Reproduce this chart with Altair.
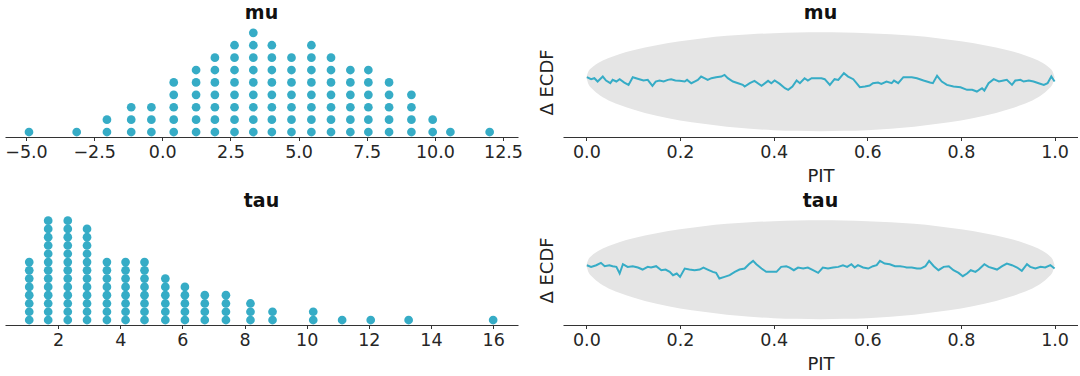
import altair as alt
import pandas as pd

BLUE = "#36acc6"
BAND_COLOR = "#e5e5e5"

# ---- dot plot data: column centres and number of stacked dots ----
MU_X = [-4.89, -3.14, -2.03, -1.14, -0.40, 0.42, 1.24, 1.93, 2.65, 3.34, 4.02,
        4.74, 5.47, 6.19, 6.90, 7.56, 8.32, 9.14, 9.92, 10.57, 12.01]
MU_N = [1, 1, 2, 3, 3, 5, 6, 7, 8, 9, 8, 7, 8, 7, 6, 6, 5, 4, 2, 1, 1]

TAU_X = [1.07, 1.68, 2.31, 2.93, 3.57, 4.17, 4.78, 5.45, 6.08, 6.72, 7.40,
         8.19, 8.90, 10.21, 11.14, 12.06, 13.28, 16.0]
TAU_N = [8, 13, 13, 12, 8, 8, 8, 6, 5, 4, 4, 3, 2, 2, 1, 1, 1, 1]

MU_TICKS = [-5.0, -2.5, 0.0, 2.5, 5.0, 7.5, 10.0, 12.5]
TAU_TICKS = [2, 4, 6, 8, 10, 12, 14, 16]
PIT_TICKS = [0.0, 0.2, 0.4, 0.6, 0.8, 1.0]

# ---- PIT ECDF difference lines ----
MU_PIT = [0.001, 0.010, 0.017, 0.024, 0.035, 0.042, 0.051, 0.056, 0.064, 0.071,
          0.081, 0.090, 0.099, 0.106, 0.113, 0.122, 0.131, 0.141, 0.148, 0.156,
          0.165, 0.174, 0.181, 0.190, 0.199, 0.210, 0.215, 0.224, 0.231, 0.238,
          0.245, 0.252, 0.259, 0.267, 0.277, 0.288, 0.295, 0.302, 0.313, 0.324,
          0.334, 0.338, 0.349, 0.359, 0.374, 0.388, 0.395, 0.402, 0.413, 0.424,
          0.431, 0.440, 0.449, 0.456, 0.466, 0.473, 0.481, 0.491, 0.502, 0.509,
          0.520, 0.530, 0.538, 0.550, 0.559, 0.570, 0.584, 0.595, 0.605, 0.612,
          0.623, 0.630, 0.641, 0.652, 0.657, 0.666, 0.677, 0.681, 0.695, 0.706,
          0.720, 0.734, 0.740, 0.749, 0.759, 0.770, 0.784, 0.799, 0.813, 0.824,
          0.834, 0.845, 0.850, 0.859, 0.870, 0.881, 0.891, 0.898, 0.909, 0.916,
          0.927, 0.934, 0.945, 0.955, 0.966, 0.977, 0.985, 0.993, 1.000]
MU_DECDF = [0.000, -0.006, -0.003, -0.013, 0.002, -0.010, -0.018, -0.008, -0.013, -0.006,
            -0.016, -0.023, 0.000, -0.003, -0.006, -0.010, -0.008, -0.026, -0.013, -0.010,
            -0.013, -0.008, -0.006, -0.010, -0.011, -0.013, -0.008, -0.018, -0.013, -0.008,
            0.002, -0.003, -0.008, -0.003, 0.000, 0.002, 0.007, -0.003, -0.013, -0.018,
            -0.023, -0.028, -0.018, -0.011, -0.026, -0.011, -0.018, -0.010, -0.020, -0.033,
            -0.038, -0.028, -0.010, -0.018, -0.003, -0.010, -0.003, -0.003, -0.003, -0.006,
            -0.023, -0.006, -0.008, 0.012, 0.002, -0.006, -0.030, -0.028, -0.025, -0.018,
            -0.016, -0.020, -0.013, -0.018, -0.010, -0.018, 0.000, 0.000, 0.000, -0.003,
            -0.010, -0.016, -0.018, 0.004, -0.013, -0.023, -0.028, -0.030, -0.038, -0.038,
            -0.043, -0.033, -0.040, -0.018, -0.006, -0.013, -0.010, -0.008, -0.023, -0.010,
            -0.008, -0.013, -0.010, -0.013, -0.018, -0.023, -0.018, 0.002, -0.013]

TAU_PIT = [0.001, 0.010, 0.021, 0.031, 0.039, 0.049, 0.056, 0.064, 0.071, 0.078,
           0.088, 0.099, 0.110, 0.120, 0.131, 0.138, 0.149, 0.160, 0.169, 0.178,
           0.185, 0.193, 0.200, 0.210, 0.220, 0.231, 0.242, 0.250, 0.259, 0.270,
           0.277, 0.284, 0.295, 0.306, 0.317, 0.327, 0.338, 0.347, 0.356, 0.363,
           0.374, 0.384, 0.395, 0.406, 0.416, 0.427, 0.434, 0.443, 0.452, 0.463,
           0.473, 0.484, 0.495, 0.505, 0.516, 0.527, 0.538, 0.548, 0.557, 0.566,
           0.573, 0.580, 0.591, 0.602, 0.612, 0.620, 0.627, 0.637, 0.648, 0.659,
           0.670, 0.679, 0.684, 0.695, 0.706, 0.714, 0.724, 0.732, 0.742, 0.752,
           0.763, 0.774, 0.784, 0.795, 0.804, 0.813, 0.821, 0.831, 0.838, 0.850,
           0.859, 0.870, 0.877, 0.888, 0.898, 0.909, 0.920, 0.930, 0.941, 0.948,
           0.959, 0.970, 0.980, 0.991, 1.000]
TAU_DECDF = [0.000, -0.005, 0.000, 0.007, -0.003, 0.000, -0.003, -0.005, -0.025, 0.003,
             -0.005, -0.003, -0.007, -0.013, -0.005, -0.007, -0.003, -0.015, -0.013, -0.020,
             -0.030, -0.025, -0.035, -0.010, -0.013, -0.015, -0.013, -0.007, -0.013, -0.020,
             -0.023, -0.040, -0.035, -0.030, -0.020, -0.013, -0.010, 0.003, 0.013, 0.003,
             -0.010, -0.020, -0.020, -0.020, -0.005, -0.003, -0.007, -0.015, -0.007, -0.010,
             -0.007, -0.015, -0.023, -0.007, -0.010, -0.007, -0.005, 0.000, -0.005, 0.003,
             -0.007, 0.000, -0.007, -0.010, -0.003, 0.000, 0.013, 0.005, 0.003, -0.003,
             -0.003, -0.005, -0.007, -0.007, -0.010, -0.010, -0.003, 0.013, -0.003, -0.015,
             -0.005, -0.003, -0.015, -0.023, -0.033, -0.025, -0.015, -0.020, -0.013, 0.003,
             -0.005, -0.010, -0.013, -0.003, 0.005, 0.000, -0.007, -0.017, 0.003, -0.005,
             -0.010, -0.005, -0.007, 0.000, -0.010]

# ---- simultaneous confidence band (same for both variables) ----
BAND_X = [0, 0.005, 0.01, 0.02, 0.04, 0.07, 0.1, 0.15, 0.2, 0.25, 0.3, 0.35, 0.4, 0.45, 0.5,
          0.55, 0.6, 0.65, 0.7, 0.75, 0.8, 0.85, 0.9, 0.93, 0.96, 0.98, 0.99, 0.995, 1.0]
BAND_HI = [0, 0.019, 0.027, 0.038, 0.053, 0.069, 0.081, 0.096, 0.108, 0.117, 0.124, 0.129,
           0.132, 0.134, 0.135, 0.134, 0.132, 0.129, 0.124, 0.117, 0.108, 0.096, 0.081,
           0.069, 0.053, 0.038, 0.027, 0.019, 0]
BAND_LO = [0, -0.023, -0.032, -0.045, -0.064, -0.083, -0.097, -0.116, -0.130, -0.140,
           -0.149, -0.155, -0.159, -0.161, -0.162, -0.161, -0.159, -0.155, -0.149, -0.140,
           -0.130, -0.116, -0.097, -0.083, -0.064, -0.045, -0.032, -0.023, 0]

LEFT_W, RIGHT_W, PANEL_H = 513, 515, 110


def dot_panel(xs, ns, title, xdomain, ticks, fmt, ydomain):
    df = pd.DataFrame([{"value": x, "row": k} for x, n in zip(xs, ns) for k in range(n)])
    return alt.Chart(df, title=title).mark_circle(
        size=76, opacity=1, color=BLUE
    ).encode(
        x=alt.X("value:Q",
                scale=alt.Scale(domain=xdomain, nice=False, zero=False),
                axis=alt.Axis(values=ticks, format=fmt, title=None, grid=False)),
        y=alt.Y("row:Q", scale=alt.Scale(domain=ydomain, nice=False, zero=False), axis=None),
    ).properties(width=LEFT_W, height=PANEL_H)


def ecdf_panel(pit, decdf, title):
    band = pd.DataFrame({"pit": BAND_X, "hi": BAND_HI, "lo": BAND_LO})
    line = pd.DataFrame({"pit": pit, "d": decdf})
    xenc = dict(scale=alt.Scale(domain=[-0.05, 1.05], nice=False, zero=False),
                axis=alt.Axis(values=PIT_TICKS, format=".1f", title="PIT", grid=False,
                              titlePadding=6))
    yscale = alt.Scale(domain=[-0.1794, 0.1506], nice=False, zero=False)
    yaxis = alt.Axis(title="Δ ECDF", labels=False, ticks=False, domain=False, grid=False,
                     titlePadding=7)
    area = alt.Chart(band).mark_area(color=BAND_COLOR, opacity=1, interpolate="monotone").encode(
        x=alt.X("pit:Q", **xenc),
        y=alt.Y("hi:Q", scale=yscale, axis=yaxis),
        y2="lo:Q",
    )
    ln = alt.Chart(line).mark_line(color=BLUE, strokeWidth=2).encode(
        x=alt.X("pit:Q", **xenc),
        y=alt.Y("d:Q", scale=yscale, axis=yaxis),
    )
    return alt.layer(area, ln, title=title).properties(width=RIGHT_W, height=PANEL_H)


mu_dots = dot_panel(MU_X, MU_N, "mu", [-5.77, 13.05], MU_TICKS, ".1f", [-0.4, 8.47])
tau_dots = dot_panel(TAU_X, TAU_N, "tau", [0.29, 16.8], TAU_TICKS, "d", [-0.6, 12.68])
mu_ecdf = ecdf_panel(MU_PIT, MU_DECDF, "mu")
tau_ecdf = ecdf_panel(TAU_PIT, TAU_DECDF, "tau")

chart = alt.concat(
    mu_dots, mu_ecdf, tau_dots, tau_ecdf,
    columns=2, spacing={"row": 78, "column": 45}, bounds="flush",
).properties(
    padding={"left": 4, "top": 4, "right": 0, "bottom": 0},
    background="white",
).configure_view(
    stroke=None
).configure_axis(
    labelFont="DejaVu Sans", labelFontSize=17.5, labelColor="#262626",
    tickColor="#333333", domainColor="#333333", tickSize=3.5, tickWidth=1,
    domainWidth=1, labelPadding=3,
    titleFont="DejaVu Sans", titleFontSize=18, titleFontWeight="normal", titleColor="#222222",
).configure_title(
    font="DejaVu Sans", fontSize=19, fontWeight="bold", color="#111111", offset=4,
)

chart.save("out.html", embed_options={"renderer": "svg", "actions": False})
